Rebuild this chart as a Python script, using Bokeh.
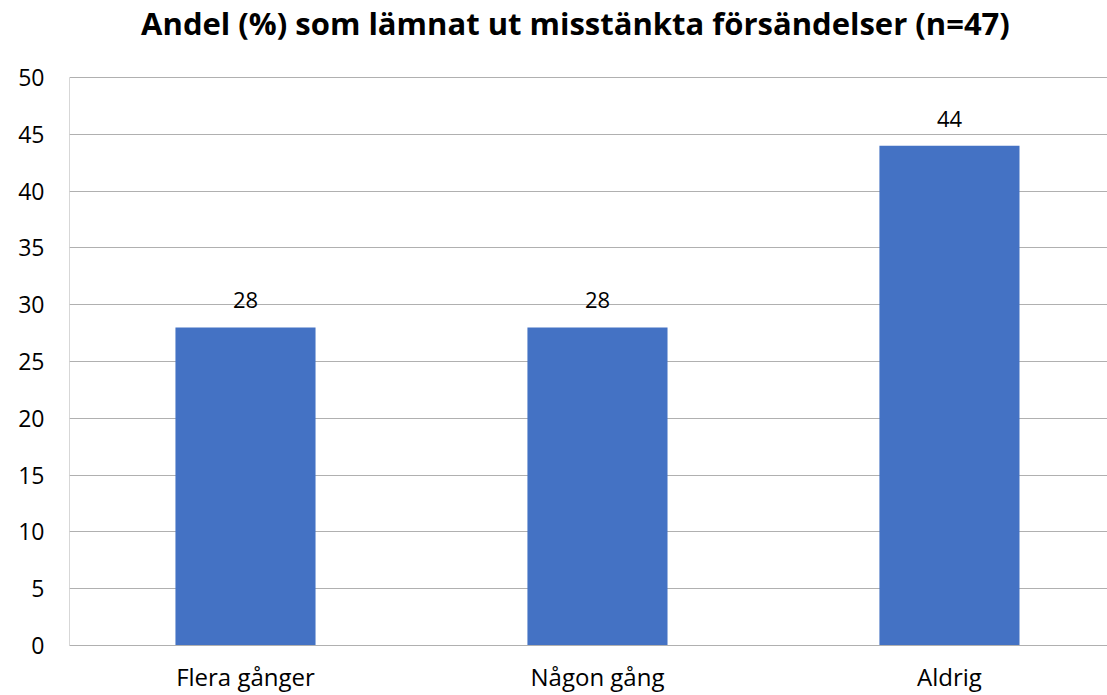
from bokeh.plotting import figure
from bokeh.models import Range1d, FixedTicker, ColumnDataSource
from bokeh.embed import file_html
from bokeh.resources import INLINE
from bokeh.core.properties import value

categories = ["Flera gånger", "Någon gång", "Aldrig"]
values = [28, 28, 44]
y_ticks = [0, 5, 10, 15, 20, 25, 30, 35, 40, 45, 50]
title_text = "Andel (%) som lämnat ut misstänkta försändelser (n=47)"

xs = [i + 0.5 for i in range(len(categories))]
src = ColumnDataSource(dict(x=xs, top=values, lab=[str(v) for v in values]))

FONT = "Open Sans"
GRID = "#b0b0b0"
y_max = y_ticks[-1]
# frame extends above the axis top to host the title (axis 0..50 occupies 568 of 645 px)
y_top = y_max * 645 / 568

p = figure(width=1107, height=695, output_backend="svg", toolbar_location=None, title=None,
           x_range=Range1d(0, 2.949), y_range=Range1d(0, y_top),
           min_border_left=69, min_border_right=0, min_border_top=0, min_border_bottom=50)
p.outline_line_color = None
p.background_fill_color = "white"
p.border_fill_color = "white"

# left vertical axis line, only across 0..50
p.segment(x0=[0], y0=[0], x1=[0], y1=[y_max], line_color=GRID, line_width=1)

# title text inside the extended frame
p.text(x=[1.4375], y=[y_top], text=[title_text], text_align="center", text_baseline="middle",
       y_offset=22, text_font=value(FONT), text_font_size="31px", text_font_style="bold",
       text_color="#000000")

p.vbar(x="x", top="top", width=0.398, bottom=0, source=src, color="#4472C4", line_color=None)
p.text(x="x", y="top", text="lab", source=src, text_align="center", text_baseline="bottom",
       y_offset=-19, text_font=value(FONT), text_font_size="22px", text_color="#000000")

p.xaxis.ticker = FixedTicker(ticks=xs)
p.xaxis.major_label_overrides = {x: c for x, c in zip(xs, categories)}
p.yaxis.ticker = FixedTicker(ticks=y_ticks)
for ax in (p.xaxis, p.yaxis):
    ax.major_tick_line_color = None
    ax.minor_tick_line_color = None
    ax.major_tick_out = 0
    ax.major_tick_in = 0
    ax.axis_line_width = 1
    ax.major_label_text_font = FONT
    ax.major_label_text_color = "#000000"
p.xaxis.axis_line_color = GRID
p.yaxis.axis_line_color = None
p.yaxis.major_label_text_font_size = "23px"
p.xaxis.major_label_text_font_size = "24px"
p.yaxis.major_label_standoff = 25
p.xaxis.major_label_standoff = 14
p.xgrid.grid_line_color = None
p.ygrid.ticker = FixedTicker(ticks=y_ticks)
p.ygrid.grid_line_color = GRID
p.ygrid.grid_line_width = 1

open("out.html", "w").write(file_html(p, INLINE))
